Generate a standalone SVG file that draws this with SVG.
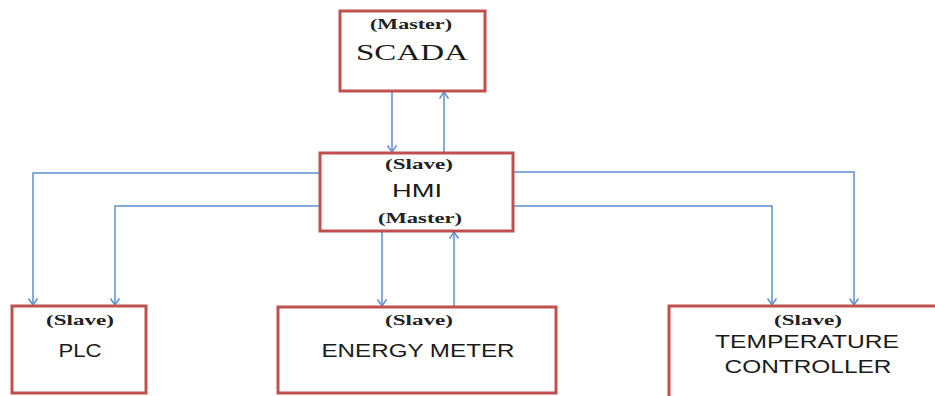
<svg xmlns="http://www.w3.org/2000/svg" width="935" height="396" viewBox="0 0 935 396">
<style>
.box{fill:#fff;stroke:#c0504d;stroke-width:3}
.ln{fill:none;stroke:#5f8fd0;stroke-width:1.5;marker-end:url(#ah)}
.sr{font-family:"Liberation Serif",serif;font-weight:bold;font-size:15px;fill:#222;text-anchor:middle}
.ss{font-family:"Liberation Sans",sans-serif;font-size:18px;fill:#1a1a1a;text-anchor:middle}
</style>
<defs>
<marker id="ah" markerUnits="userSpaceOnUse" markerWidth="12" markerHeight="12" refX="7" refY="5" orient="auto">
<path d="M0.5,0.5 L7,5 L0.5,9.5" fill="none" stroke="#5f8fd0" stroke-width="1.5"/>
</marker>
</defs>
<rect width="935" height="396" fill="#fff"/>
<g id="connectors">
<line class="ln" x1="392" y1="92" x2="392" y2="152"/>
<line class="ln" x1="444" y1="152" x2="444" y2="92"/>
<line class="ln" x1="382" y1="232" x2="382" y2="306"/>
<line class="ln" x1="454" y1="306" x2="454" y2="232"/>
<polyline class="ln" points="319,173 33,173 33,305"/>
<polyline class="ln" points="319,206 115,206 115,305"/>
<polyline class="ln" points="514,172 854,172 854,305"/>
<polyline class="ln" points="514,206 772,206 772,305"/>
</g>
<g id="scada">
<rect class="box" x="340" y="11" width="145" height="80"/>
<text class="sr" x="411" y="29" textLength="82" lengthAdjust="spacingAndGlyphs">(Master)</text>
<text x="412" y="60" font-family="Liberation Serif,serif" font-size="24" fill="#1a1a1a" text-anchor="middle" textLength="112" lengthAdjust="spacingAndGlyphs">SCADA</text>
</g>
<g id="hmi">
<rect class="box" x="320" y="153" width="193" height="78"/>
<text class="sr" x="419" y="169" textLength="68" lengthAdjust="spacingAndGlyphs">(Slave)</text>
<text class="ss" x="417" y="197" textLength="50" lengthAdjust="spacingAndGlyphs">HMI</text>
<text class="sr" x="420" y="223" textLength="84" lengthAdjust="spacingAndGlyphs">(Master)</text>
</g>
<g id="plc">
<rect class="box" x="12" y="306" width="134" height="87"/>
<text class="sr" x="80" y="325" textLength="68" lengthAdjust="spacingAndGlyphs">(Slave)</text>
<text class="ss" x="80" y="357" textLength="43" lengthAdjust="spacingAndGlyphs">PLC</text>
</g>
<g id="energy">
<rect class="box" x="278" y="307" width="278" height="86"/>
<text class="sr" x="419" y="325" textLength="68" lengthAdjust="spacingAndGlyphs">(Slave)</text>
<text class="ss" x="418" y="357" textLength="193" lengthAdjust="spacingAndGlyphs">ENERGY METER</text>
</g>
<g id="temp">
<rect class="box" x="669" y="306" width="300" height="110"/>
<text class="sr" x="808" y="325" textLength="68" lengthAdjust="spacingAndGlyphs">(Slave)</text>
<text class="ss" x="807" y="348" textLength="184" lengthAdjust="spacingAndGlyphs">TEMPERATURE</text>
<text class="ss" x="808" y="373" textLength="167" lengthAdjust="spacingAndGlyphs">CONTROLLER</text>
</g>
</svg>
